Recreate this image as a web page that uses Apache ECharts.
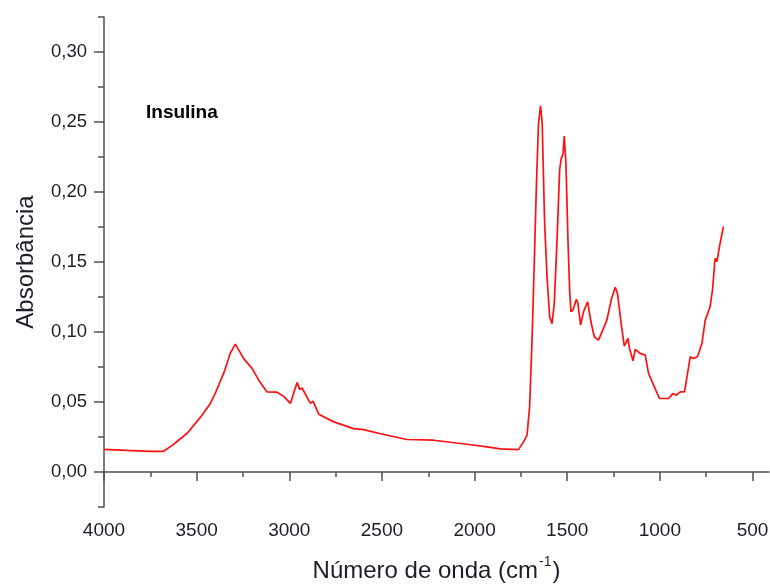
<!DOCTYPE html>
<html>
<head>
<meta charset="utf-8">
<script src="https://cdn.jsdelivr.net/npm/echarts@6/dist/echarts.min.js"></script>
<style>
html,body{margin:0;padding:0;background:#fff;}
#chart{width:770px;height:587px;}
</style>
</head>
<body>
<div id="chart"></div>
<script>
const wavenumbers = [4000, 3880, 3749, 3679, 3632, 3551, 3480, 3426, 3399, 3354, 3318, 3291, 3246, 3201, 3165, 3120, 3066, 3030, 2994, 2958, 2944, 2931, 2886, 2872, 2841, 2760, 2653, 2599, 2491, 2365, 2221, 2041, 1933, 1861, 1763, 1736, 1717, 1703, 1690, 1682, 1667, 1655, 1644, 1635, 1622, 1609, 1595, 1582, 1570, 1555, 1541, 1532, 1523, 1516, 1507, 1496, 1487, 1480, 1469, 1451, 1442, 1428, 1412, 1390, 1372, 1354, 1331, 1286, 1263, 1241, 1229, 1209, 1192, 1172, 1164, 1145, 1133, 1106, 1079, 1061, 1034, 1002, 953, 930, 912, 890, 867, 836, 819, 797, 773, 755, 729, 716, 702, 692, 675, 657];
const absorbance = [0.0162, 0.0155, 0.0148, 0.0148, 0.019, 0.0277, 0.039, 0.049, 0.0563, 0.0706, 0.085, 0.0913, 0.081, 0.074, 0.0656, 0.0572, 0.057, 0.054, 0.049, 0.064, 0.059, 0.060, 0.049, 0.0506, 0.0413, 0.0358, 0.031, 0.0303, 0.0268, 0.0232, 0.0227, 0.0198, 0.0179, 0.0165, 0.016, 0.0215, 0.0262, 0.0465, 0.094, 0.13, 0.2015, 0.249, 0.2616, 0.249, 0.1777, 0.1395, 0.111, 0.106, 0.12, 0.1657, 0.2158, 0.224, 0.227, 0.240, 0.2206, 0.1657, 0.13, 0.1145, 0.1157, 0.1233, 0.1205, 0.105, 0.1145, 0.1216, 0.1073, 0.0966, 0.0942, 0.1085, 0.1228, 0.1319, 0.1276, 0.1061, 0.0899, 0.0954, 0.0883, 0.0794, 0.0876, 0.0847, 0.0835, 0.0704, 0.062, 0.0525, 0.0525, 0.056, 0.0549, 0.0572, 0.0572, 0.0823, 0.0811, 0.0823, 0.0918, 0.1085, 0.118, 0.13, 0.1527, 0.1502, 0.1634, 0.1753];
const xMajorTicks = [500, 1000, 1500, 2000, 2500, 3000, 3500, 4000];
const xMinorTicks = [750, 1250, 1750, 2250, 2750, 3250, 3750];
const yMajorTicks = [0, 0.05, 0.10, 0.15, 0.20, 0.25, 0.30];
const yMinorTicks = [-0.025, 0.025, 0.075, 0.125, 0.175, 0.225, 0.275, 0.325];
const seriesName = 'Insulina';
const xTitle = 'Número de onda (cm';
const yTitle = 'Absorbância';

const FONT = '"Liberation Sans", Arial, sans-serif';
const axisColor = '#505050';
const labelColor = '#1e1e2a';
const X_MIN = 411, X_MAX = 4000, Y_MIN = -0.025, Y_MAX = 0.325;

const chart = echarts.init(document.getElementById('chart'), null, {renderer: 'canvas'});
const data = wavenumbers.map((w, i) => [w, absorbance[i]]);

chart.setOption({
  animation: false,
  backgroundColor: '#fff',
  grid: {left: 104, right: 1, top: 17, bottom: 80, containLabel: false, outerBoundsMode: 'none'},
  xAxis: [
    {
      type: 'value', inverse: true, min: X_MIN, max: X_MAX,
      name: '{a|' + xTitle + '}{s|-1}{a|)}',
      nameLocation: 'middle', nameGap: 48,
      nameTextStyle: {
        rich: {
          a: {fontFamily: FONT, fontSize: 24, color: labelColor, verticalAlign: 'bottom', lineHeight: 28},
          s: {fontFamily: FONT, fontSize: 14, color: labelColor, verticalAlign: 'top', lineHeight: 28, padding: [0, 1, 0, 1]}
        }
      },
      axisLine: {show: true, lineStyle: {color: axisColor, width: 1.5}},
      axisTick: {show: true, inside: false, length: 9, lineStyle: {color: axisColor, width: 1.5}, customValues: xMajorTicks},
      axisLabel: {show: true, margin: 14, fontFamily: FONT, fontSize: 19, color: labelColor, customValues: xMajorTicks,
        formatter: v => String(v)},
      splitLine: {show: false}
    },
    {
      type: 'value', inverse: true, min: X_MIN, max: X_MAX, position: 'bottom',
      axisLine: {show: false},
      axisTick: {show: true, inside: false, length: 5, lineStyle: {color: axisColor, width: 1.5}, customValues: xMinorTicks},
      axisLabel: {show: false},
      splitLine: {show: false}
    }
  ],
  yAxis: [
    {
      type: 'value', min: Y_MIN, max: Y_MAX,
      name: yTitle, nameLocation: 'middle', nameGap: 66,
      nameTextStyle: {fontFamily: FONT, fontSize: 24, color: labelColor},
      axisLine: {show: true, lineStyle: {color: axisColor, width: 1.5}},
      axisTick: {show: true, inside: false, length: 10, lineStyle: {color: axisColor, width: 1.5}, customValues: yMajorTicks},
      axisLabel: {show: true, margin: 17, fontFamily: FONT, fontSize: 18.5, color: labelColor,
        customValues: yMajorTicks,
        formatter: v => v.toFixed(2).replace('.', ',')},
      splitLine: {show: false}
    },
    {
      type: 'value', min: Y_MIN, max: Y_MAX, position: 'left',
      axisLine: {show: false},
      axisTick: {show: true, inside: false, length: 6, lineStyle: {color: axisColor, width: 1.5}, customValues: yMinorTicks},
      axisLabel: {show: false},
      splitLine: {show: false}
    }
  ],
  graphic: [
    {type: 'text', left: 146, top: 103, style: {text: seriesName, fontFamily: FONT, fontSize: 19, fontWeight: 'bold', fill: '#000'}}
  ],
  series: [
    {
      name: seriesName, type: 'line', data: data, showSymbol: false, smooth: false,
      xAxisIndex: 0, yAxisIndex: 0,
      lineStyle: {color: '#ff1010', width: 1.7}
    }
  ]
});
</script>
</body>
</html>
